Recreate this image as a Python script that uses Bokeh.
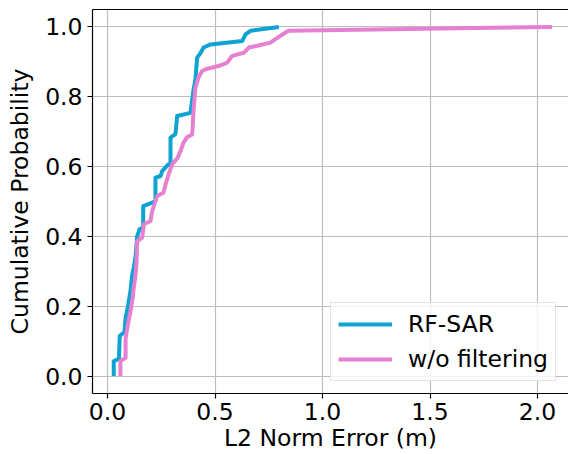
from bokeh.plotting import figure
from bokeh.models import (Range1d, FixedTicker, LinearAxis, Legend, LegendItem)
from bokeh.embed import file_html
from bokeh.resources import INLINE

# ---- data ----
rf_sar_err = [0.029, 0.029, 0.053, 0.057, 0.079, 0.084, 0.093, 0.099, 0.107, 0.114,
              0.122, 0.130, 0.138, 0.149, 0.166, 0.166, 0.208, 0.223, 0.223, 0.247,
              0.254, 0.284, 0.293, 0.293, 0.316, 0.324, 0.386, 0.398, 0.409, 0.417,
              0.433, 0.447, 0.479, 0.627, 0.642, 0.665, 0.797]
rf_sar_cdf = [0.0, 0.043, 0.049, 0.115, 0.126, 0.167, 0.192, 0.215, 0.244, 0.287,
              0.31, 0.339, 0.401, 0.421, 0.425, 0.487, 0.497, 0.501, 0.568, 0.573,
              0.587, 0.607, 0.607, 0.683, 0.693, 0.745, 0.754, 0.811, 0.851, 0.912,
              0.926, 0.941, 0.950, 0.960, 0.979, 0.989, 1.0]
nofilt_err = [0.060, 0.060, 0.084, 0.084, 0.092, 0.107, 0.115, 0.122, 0.130, 0.135,
              0.138, 0.161, 0.169, 0.200, 0.208, 0.231, 0.260, 0.270, 0.285, 0.301,
              0.326, 0.340, 0.353, 0.371, 0.394, 0.401, 0.409, 0.423, 0.440, 0.456,
              0.516, 0.557, 0.580, 0.634, 0.657, 0.696, 0.758, 0.781, 0.828, 0.843, 2.068]
nofilt_cdf = [0.0, 0.043, 0.052, 0.106, 0.138, 0.186, 0.215, 0.253, 0.287, 0.324,
              0.387, 0.396, 0.435, 0.444, 0.473, 0.516, 0.525, 0.549, 0.579, 0.607,
              0.625, 0.645, 0.668, 0.685, 0.692, 0.769, 0.826, 0.855, 0.874, 0.879,
              0.888, 0.898, 0.917, 0.926, 0.941, 0.946, 0.955, 0.965, 0.984, 0.989, 1.0]
series_names = ["RF-SAR", "w/o filtering"]
x_ticks = [0.0, 0.5, 1.0, 1.5, 2.0]
x_tick_labels = ["0.0", "0.5", "1.0", "1.5", "2.0"]
y_ticks = [0.0, 0.2, 0.4, 0.6, 0.8, 1.0]
y_tick_labels = ["0.0", "0.2", "0.4", "0.6", "0.8", "1.0"]
x_label = "L2 Norm Error (m)"
y_label = "Cumulative Probability"

FONT = "DejaVu Sans"
FS = "23.5px"
BLUE = "#0da3d3"
PINK = "#e680d0"

p = figure(width=568, height=454, output_backend="svg", toolbar_location=None,
           x_range=Range1d(-0.0698, 2.144), y_range=Range1d(-0.05, 1.05),
           min_border_left=92, min_border_right=0, min_border_top=9, min_border_bottom=61,
           x_axis_label=x_label, y_axis_label=y_label)
p.outline_line_color = None
p.background_fill_color = "white"
p.border_fill_color = "white"

for ax in (p.xaxis[0], p.yaxis[0]):
    ax.axis_line_color = "black"
    ax.axis_line_width = 1.2
    ax.major_tick_line_color = "black"
    ax.major_tick_line_width = 1.2
    ax.major_tick_out = 5
    ax.major_tick_in = 0
    ax.minor_tick_line_color = None
    ax.major_label_text_font = FONT
    ax.major_label_text_font_size = FS
    ax.major_label_text_color = "black"
    ax.axis_label_text_font = FONT
    ax.axis_label_text_font_size = FS
    ax.axis_label_text_font_style = "normal"
    ax.axis_label_text_color = "black"

p.xaxis[0].ticker = FixedTicker(ticks=x_ticks)
p.xaxis[0].major_label_overrides = dict(zip(x_ticks, x_tick_labels))
p.xaxis[0].major_label_standoff = 4
p.xaxis[0].axis_label_standoff = 1
p.yaxis[0].ticker = FixedTicker(ticks=y_ticks)
p.yaxis[0].major_label_overrides = dict(zip(y_ticks, y_tick_labels))
p.yaxis[0].major_label_standoff = 5
p.yaxis[0].axis_label_standoff = 8

# top spine
top = LinearAxis(ticker=FixedTicker(ticks=[]), major_label_text_font_size="0px",
                 major_tick_out=0, major_tick_in=0, minor_tick_out=0, minor_tick_in=0,
                 axis_line_color="black", axis_line_width=1.2)
p.add_layout(top, "above")

p.xgrid.ticker = FixedTicker(ticks=x_ticks)
p.ygrid.ticker = FixedTicker(ticks=y_ticks)
for g in (p.xgrid[0], p.ygrid[0]):
    g.grid_line_color = "#bdbdbd"
    g.grid_line_width = 1.2

r1 = p.line(rf_sar_err, rf_sar_cdf, line_color=BLUE, line_width=4, line_join="round")
r2 = p.line(nofilt_err, nofilt_cdf, line_color=PINK, line_width=4, line_join="round")

legend = Legend(items=[LegendItem(label=series_names[0], renderers=[r1]),
                       LegendItem(label=series_names[1], renderers=[r2])],
                location=(238, 12), orientation="vertical",
                label_text_font=FONT, label_text_font_size=FS, label_text_color="black",
                glyph_width=54, glyph_height=28, label_standoff=16,
                spacing=7, padding=7, margin=0,
                border_line_color="#cccccc", border_line_width=1.2,
                background_fill_color="white", background_fill_alpha=0.8)
p.add_layout(legend)

open("out.html", "w").write(file_html(p, INLINE))
